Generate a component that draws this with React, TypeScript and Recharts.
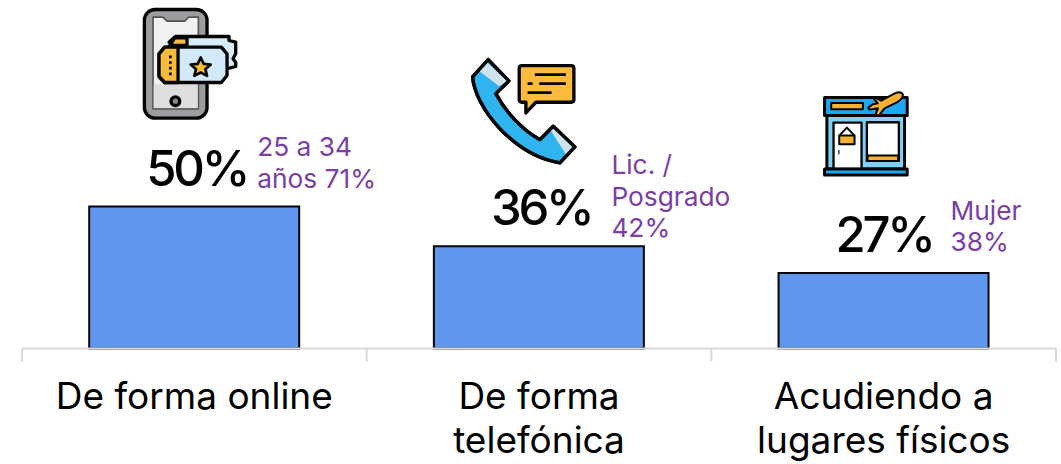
import React from "react";
import { BarChart, Bar, XAxis, YAxis, LabelList } from "recharts";

const categories = ["De forma online", "De forma telefónica", "Acudiendo a lugares físicos"];
const tickLines = [["De forma online"], ["De forma", "telefónica"], ["Acudiendo a", "lugares físicos"]];
const shares = [50, 36, 26.6];
const highlights = [["25 a 34", "años 71%"], ["Lic. /", "Posgrado", "42%"], ["Mujer", "38%"]];
const rows = categories.map((name, i) => ({ name, share: shares[i] }));

const FONT = "Inter, 'Noto Sans', sans-serif";
const NOTE_LAYOUT = [
  { dx: 63, last: -19 },
  { dx: 72.5, last: -9 },
  { dx: 67, last: -21.5 },
];
const ICON_LAYOUT = [
  { dx: -64.5, dy: -206 },
  { dx: -79, dy: -196 },
  { dx: -74, dy: -188 },
];

const K = "#050505";
const TicketIcon = () => (
  <g stroke={K} strokeWidth={10} strokeLinejoin="round">
    <rect x={44} y={27} width={188} height={326} rx={32} fill="#9b9da0" />
    <path d="M70 50 H100 L112 62 H165 L177 50 H206 V325 H70 Z" fill="#f1f1f1" strokeWidth={5} stroke="#555" />
    <rect x={72} y={252} width={132} height={71} fill="#dedede" stroke="none" />
    <circle cx={137} cy={302} r={13} fill="#8a8a8a" />
    <path d="M118 125 L137 108 H298 V120 L318 125 V160 L310 175 L318 185 V198 L290 205 V225 H180 L150 130 Z" fill="#d8ebf9" />
    <path d="M135 112 H172 V135 H120 Z" fill="#f8bb39" />
    <path d="M88 160 L105 140 H275 L292 160 V225 L275 246 H105 L88 228 Z" fill="#d2e9fa" />
    <path d="M88 160 L105 140 H145 V246 H105 L88 228 Z" fill="#f8bb39" />
    <path d="M122 165 V225" strokeDasharray="8 9" strokeWidth={8} fill="none" />
    <path d="M213 171 L222 190 L243 192 L227 206 L232 226 L213 216 L194 226 L199 206 L183 192 L204 190 Z" fill="#f8bb39" strokeWidth={8} />
  </g>
);
const PhoneIcon = () => (
  <g stroke={K} strokeWidth={10} strokeLinejoin="round">
    <path d="M38 80 C45 170 160 315 300 338 L345 290 L280 228 L240 268 C190 240 140 190 108 130 L147 92 L85 28 Z" fill="#2fb4ef" />
    <path d="M52 58 L78 34 L142 92 L118 108 Z" fill="#cfe3ec" stroke="none" />
    <path d="M272 240 L285 232 L340 290 L318 312 Z" fill="#cfe3ec" stroke="none" />
    <path d="M38 80 C45 170 160 315 300 338 L345 290 L280 228 L240 268 C190 240 140 190 108 130 L147 92 L85 28 Z" fill="none" />
    <path d="M186 46 H334 Q342 46 342 54 V148 Q342 156 334 156 H228 L198 188 V156 H186 Q178 156 178 148 V54 Q178 46 186 46 Z" fill="#fbbc3d" />
    <path d="M225 73 H318 M203 100 H218 M238 100 H318 M203 127 H275" fill="none" strokeWidth={8} />
  </g>
);
const StoreIcon = () => (
  <g stroke={K} strokeWidth={9} strokeLinejoin="round">
    <rect x={52} y={92} width={233} height={160} fill="#7fd0f6" />
    <rect x={45} y={38} width={248} height={54} fill="#1ea7ec" />
    <rect x={65} y={54} width={95} height={19} fill="#f5b133" strokeWidth={6} />
    <path d="M192 36 L215 47 L250 28 Q272 16 280 28 Q282 40 262 52 L225 70 L208 92 L198 88 L205 70 L180 74 L176 68 L190 58 L205 55 L192 40 Z" fill="#f5b133" strokeWidth={6} />
    <rect x={72} y={113} width={84} height={139} fill="#fff" strokeWidth={7} />
    <rect x={172} y={112} width={96} height={116} fill="#fff" strokeWidth={7} />
    <rect x={174} y={212} width={92} height={16} fill="#f5b133" strokeWidth={6} />
    <path d="M89 152 L112 128 L135 152" fill="none" strokeWidth={6} />
    <rect x={89} y={152} width={46} height={26} fill="#f5b133" strokeWidth={6} />
    <path d="M88 195 V208" fill="none" strokeWidth={5} stroke="#555" />
    <rect x={45} y={252} width={248} height={18} fill="#1ea7ec" />
  </g>
);
const ICONS = [TicketIcon, PhoneIcon, StoreIcon];

const Annotation = (props: any) => {
  const { x, y, width, index, value } = props;
  const cx = x + width / 2;
  const notes = highlights[index];
  const Icon = ICONS[index];
  const { dx, last } = NOTE_LAYOUT[index];
  const ic = ICON_LAYOUT[index];
  const lineH = 31.5;
  return (
    <g>
      <g transform={`translate(${cx + ic.dx},${y + ic.dy}) scale(${1 / 3})`}>
        <Icon />
      </g>
      <text
        x={cx - 48}
        y={y - 21}
        fontFamily={FONT}
        fontSize={49}
        fontWeight={500}
        letterSpacing={-3.2}
        fill="#000"
      >
        {Math.round(value)}%
      </text>
      {notes.map((line, i) => (
        <text
          key={line}
          x={cx + dx}
          y={y + last - (notes.length - 1 - i) * lineH}
          fontFamily={FONT}
          fontSize={26.3}
          fill="#7a3ea8"
        >
          {line}
        </text>
      ))}
    </g>
  );
};

const CategoryTick = (props: any) => {
  const { x, y, payload, index, width } = props;
  const band = width / categories.length;
  const lines = tickLines[index] ?? [payload.value];
  const axisY = y - 12;
  const tickLen = 13;
  return (
    <g>
      <line x1={x - band / 2} x2={x - band / 2} y1={axisY} y2={axisY + tickLen} stroke="#d9d9d9" strokeWidth={2} />
      {index === categories.length - 1 && (
        <line x1={x + band / 2} x2={x + band / 2} y1={axisY} y2={axisY + tickLen} stroke="#d9d9d9" strokeWidth={2} />
      )}
      {lines.map((l: string, i: number) => (
        <text key={l} x={x} y={axisY + 60 + i * 44} textAnchor="middle" fontFamily={FONT} fontSize={37} fill="#000">
          {l}
        </text>
      ))}
    </g>
  );
};

export default function App() {
  return (
    <div style={{ position: "absolute", left: 0, top: 0, width: 1061, height: 464, background: "#fff", overflow: "hidden" }}>
      <BarChart
        width={1061}
        height={464}
        data={rows}
        barCategoryGap="19.5%"
        margin={{ top: 64.5, right: 5, bottom: 0, left: 22 }}
      >
        <XAxis
          dataKey="name"
          height={115.5}
          interval={0}
          tickLine={false}
          tickSize={0}
          tickMargin={12}
          axisLine={{ stroke: "#d9d9d9", strokeWidth: 2 }}
          tick={<CategoryTick />}
        />
        <YAxis hide domain={[0, 100]} />
        <Bar dataKey="share" fill="#5f96ee" stroke="#050505" strokeWidth={2} isAnimationActive={false}>
          <LabelList dataKey="share" content={<Annotation />} />
        </Bar>
      </BarChart>
    </div>
  );
}
